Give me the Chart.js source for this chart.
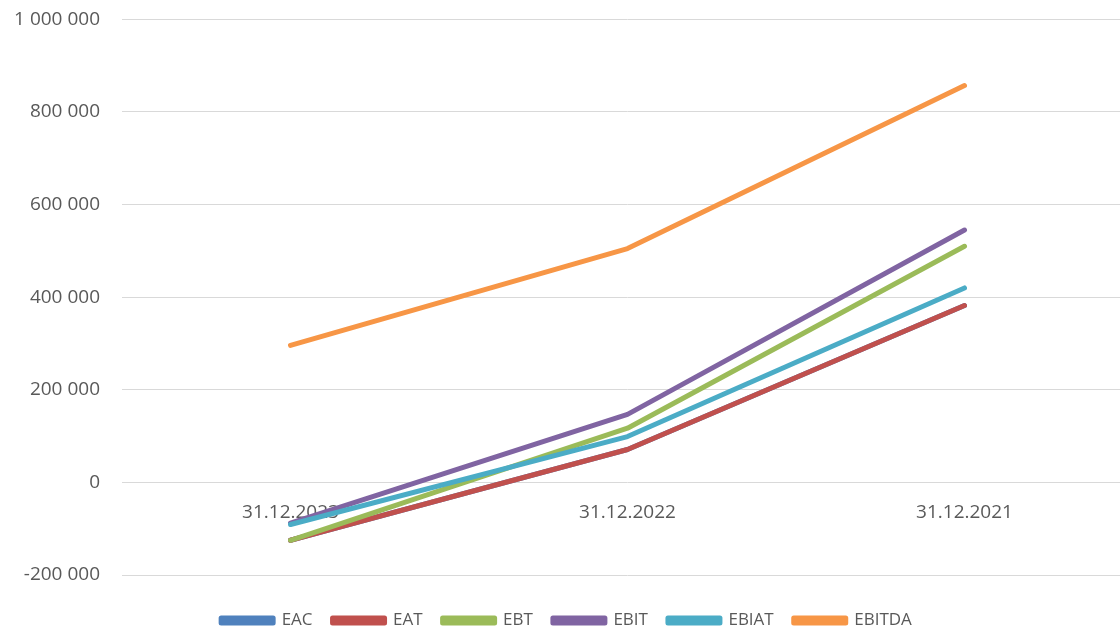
<!DOCTYPE html>
<html>
<head>
<meta charset="utf-8">
<script src="https://cdn.jsdelivr.net/npm/chart.js@4"></script>
<style>
  html, body { margin: 0; padding: 0; overflow: hidden; background: #fff; }
  #wrap { width: 1133px; height: 653px; margin-top: -14px; }
</style>
</head>
<body>
<div id="wrap"><canvas id="chart"></canvas></div>
<script>
// Data
const periods = ['31.12.2023', '31.12.2022', '31.12.2021'];
const eac    = [-125000, 71000, 382000];
const eat    = [-125000, 71000, 382000];
const ebt    = [-125000, 117000, 510000];
const ebit   = [-88000, 147000, 545000];
const ebiat  = [-91000, 99000, 420000];
const ebitda = [296000, 505000, 857000];

const seriesNames = ['EAC', 'EAT', 'EBT', 'EBIT', 'EBIAT', 'EBITDA'];
const seriesData = [eac, eat, ebt, ebit, ebiat, ebitda];
const seriesColors = ['#4F81BD', '#C0504D', '#9BBB59', '#8064A2', '#4BACC6', '#F79646'];

const font = '"Open Sans", sans-serif';

function spaced(v) {
  return String(v).replace(/\B(?=(\d{3})+(?!\d))/g, ' ');
}

// later series drawn on top, like the original
const datasets = seriesNames.map((name, i) => ({
  label: name,
  data: seriesData[i],
  order: seriesNames.length - i,
  borderColor: seriesColors[i],
  backgroundColor: seriesColors[i],
  borderWidth: 5,
  borderCapStyle: 'round',
  borderJoinStyle: 'round',
  pointRadius: 0,
  fill: false,
  tension: 0
}));

new Chart(document.getElementById('chart'), {
  type: 'line',
  data: { labels: periods, datasets: datasets },
  options: {
    responsive: true,
    maintainAspectRatio: false,
    animation: false,
    layout: { padding: 0 },
    plugins: {
      tooltip: { enabled: false },
      legend: {
        position: 'bottom',
        reverse: true,
        labels: {
          boxWidth: 52,
          boxHeight: 5,
          padding: 20,
          color: '#595959',
          font: { size: 17, family: font }
        }
      }
    },
    scales: {
      x: {
        position: { y: 0 },
        offset: true,
        grid: { display: false },
        border: { display: false },
        ticks: {
          color: '#595959',
          padding: 11,
          font: { size: 19, family: font }
        }
      },
      // empty bottom band, only keeps the legend away from the plot
      gap: {
        type: 'category',
        labels: periods,
        position: 'bottom',
        grid: { display: false },
        border: { display: false },
        ticks: { display: false },
        afterFit: (scale) => { scale.height = 17; }
      },
      y: {
        min: -200000,
        max: 1000000,
        afterFit: (scale) => { scale.width = 122; },
        grid: { color: '#d9d9d9', drawTicks: false, lineWidth: 1 },
        border: { display: false },
        ticks: {
          stepSize: 200000,
          padding: 22,
          color: '#595959',
          font: { size: 19, family: font },
          callback: (v) => spaced(v)
        }
      }
    }
  }
});
</script>
</body>
</html>
